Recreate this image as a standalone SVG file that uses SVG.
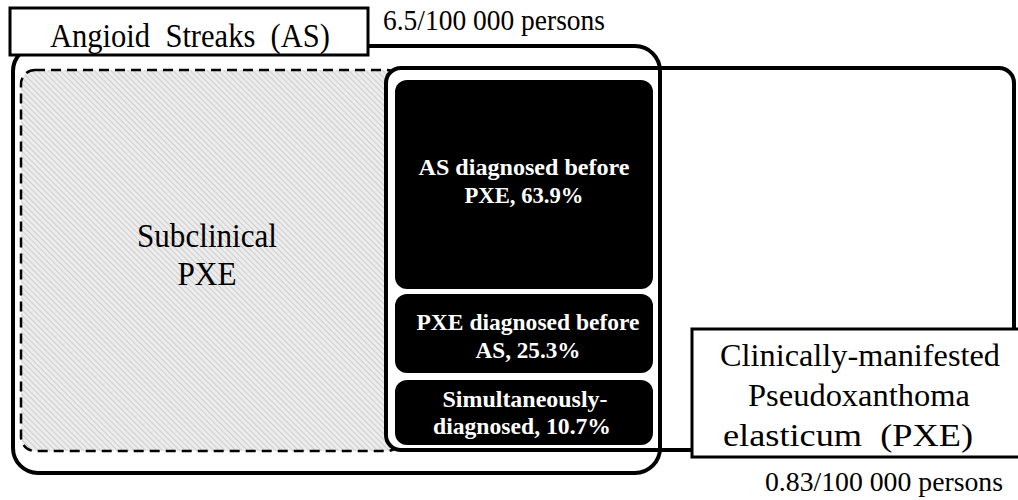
<svg xmlns="http://www.w3.org/2000/svg" width="1018" height="500" viewBox="0 0 1018 500">
<defs>
<pattern id="hatch" patternUnits="userSpaceOnUse" width="4" height="4" patternTransform="rotate(-45)">
<rect width="4" height="4" fill="#ececec"/>
<line x1="0" y1="0" x2="0" y2="4" stroke="#c4c4c4" stroke-width="1.5"/>
</pattern>
</defs>
<style>
text{font-family:'Liberation Serif','Times New Roman',Times,serif}
.t{fill:#000}
.b{font-weight:bold;fill:#fff;font-size:24px}
.box{fill:#000;stroke:none}
.lbl{fill:#fff;stroke:#000;stroke-width:3}
</style>
<rect width="1018" height="500" fill="#fff"/>
<g id="connectors"></g>
<g id="as-set">
<rect x="13" y="46" width="647" height="427" rx="25" fill="#fff"/>
</g>
<g id="subclinical">
<rect x="21" y="70" width="380" height="381" rx="14" fill="url(#hatch)" stroke="#000" stroke-width="2.5" stroke-dasharray="10 6"/>
<text class="t" font-family="Liberation Serif" font-size="34" x="207" y="247" text-anchor="middle" textLength="140" lengthAdjust="spacingAndGlyphs">Subclinical</text>
<text class="t" font-family="Liberation Serif" font-size="34" x="207" y="285" text-anchor="middle" textLength="59" lengthAdjust="spacingAndGlyphs">PXE</text>
</g>
<g id="pxe-set">
<rect x="386" y="68" width="628" height="382" rx="15" fill="#fff" stroke="#000" stroke-width="4"/>
</g>
<g id="as-outline">
<rect x="13" y="46" width="647" height="427" rx="25" fill="none" stroke="#000" stroke-width="4"/>
</g>
<g id="as-before">
<rect class="box" x="395" y="80" width="258" height="209" rx="12"/>
<text class="b" font-family="Liberation Serif" x="524" y="175" text-anchor="middle" textLength="211" lengthAdjust="spacingAndGlyphs">AS diagnosed before</text>
<text class="b" font-family="Liberation Serif" x="524" y="203" text-anchor="middle" textLength="119" lengthAdjust="spacingAndGlyphs">PXE, 63.9%</text>
</g>
<g id="pxe-before">
<rect class="box" x="395" y="294" width="258" height="79" rx="12"/>
<text class="b" font-family="Liberation Serif" x="528" y="330" text-anchor="middle" textLength="223" lengthAdjust="spacingAndGlyphs">PXE diagnosed before</text>
<text class="b" font-family="Liberation Serif" x="528" y="358" text-anchor="middle" textLength="105" lengthAdjust="spacingAndGlyphs">AS, 25.3%</text>
</g>
<g id="simultaneous">
<rect class="box" x="395" y="380" width="258" height="65" rx="12"/>
<text class="b" font-family="Liberation Serif" x="525" y="407" text-anchor="middle" textLength="165" lengthAdjust="spacingAndGlyphs">Simultaneously-</text>
<text class="b" font-family="Liberation Serif" x="522" y="434" text-anchor="middle" textLength="178" lengthAdjust="spacingAndGlyphs">diagnosed, 10.7%</text>
</g>
<g id="as-label">
<rect class="lbl" x="10" y="8" width="358" height="47"/>
<text class="t" font-family="Liberation Serif" font-size="34" x="190" y="47" text-anchor="middle" textLength="280" lengthAdjust="spacingAndGlyphs" style="white-space:pre">Angioid  Streaks  (AS)</text>
<text class="t" font-family="Liberation Serif" font-size="30" x="383" y="30" textLength="222" lengthAdjust="spacingAndGlyphs">6.5/100 000 persons</text>
</g>
<g id="pxe-label">
<rect class="lbl" x="692" y="329" width="330" height="128"/>
<text class="t" font-family="Liberation Serif" font-size="31" x="860" y="366" text-anchor="middle" textLength="280" lengthAdjust="spacingAndGlyphs">Clinically-manifested</text>
<text class="t" font-family="Liberation Serif" font-size="31" x="859" y="406" text-anchor="middle" textLength="222" lengthAdjust="spacingAndGlyphs">Pseudoxanthoma</text>
<text class="t" font-family="Liberation Serif" font-size="31" x="848" y="446" text-anchor="middle" textLength="250" lengthAdjust="spacingAndGlyphs" style="white-space:pre">elasticum  (PXE)</text>
<text class="t" font-family="Liberation Serif" font-size="28" x="765" y="491" textLength="238" lengthAdjust="spacingAndGlyphs">0.83/100 000 persons</text>
</g>
</svg>
